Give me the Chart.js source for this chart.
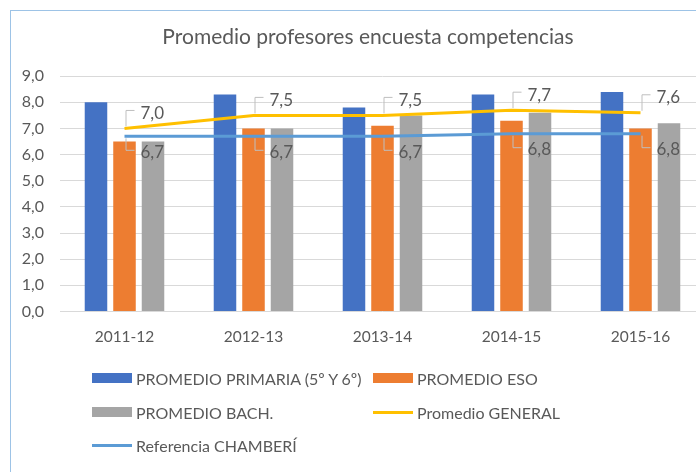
<!DOCTYPE html>
<html>
<head>
<meta charset="utf-8">
<script src="https://cdn.jsdelivr.net/npm/chart.js@4"></script>
<style>
  html, body { margin: 0; padding: 0; background: #fff; overflow: hidden; }
  body { width: 696px; height: 472px; position: relative; }
  #frame {
    position: absolute; left: 10px; top: 10px;
    width: 714px; height: 480px;
    border: 1px solid #9dc3e6;
  }
  #legend {
    position: absolute; left: 0; top: 0; width: 714px; height: 480px;
    pointer-events: none;
    font-family: Lato, "Open Sans", sans-serif; font-size: 16px; color: #595959;
  }
  .item { position: absolute; display: flex; align-items: center; white-space: nowrap; }
  .sw { width: 40px; margin-right: 4px; }
</style>
</head>
<body>
<div id="frame">
  <canvas id="chart" width="714" height="366"></canvas>
  <div id="legend"></div>
</div>
<script>
// categories
const cursos = ["2011-12", "2012-13", "2013-14", "2014-15", "2015-16"];

// bar series
const primaria = [8.0, 8.3, 7.8, 8.3, 8.4];
const eso = [6.5, 7.0, 7.1, 7.3, 7.0];
const bach = [6.5, 7.0, 7.5, 7.6, 7.2];

// line series
const general = [7.0, 7.5, 7.5, 7.7, 7.6];
const chamberi = [6.7, 6.7, 6.7, 6.8, 6.8];

const txtColor = "#595959";
const fontFam = "Lato, 'Open Sans', sans-serif";

const coma = (v) => v.toFixed(1).replace(".", ",");

// labels with small leader brackets next to the line points
const lineLabels = {
  id: "lineLabels",
  afterDatasetsDraw(chart) {
    const ctx = chart.ctx;
    chart.data.datasets.forEach((ds, i) => {
      if (!ds.labelSide) return;
      const meta = chart.getDatasetMeta(i);
      const up = ds.labelSide === "up";
      meta.data.forEach((pt, j) => {
        const x = pt.x, y = pt.y;
        const ty = up ? y - 15 : y + 16;
        ctx.save();
        ctx.strokeStyle = "#bfbfbf";
        ctx.lineWidth = 1;
        ctx.beginPath();
        ctx.moveTo(x + 1.5, y + (up ? -2 : 2));
        ctx.lineTo(x + 1.5, ty + (up ? -3 : -2));
        ctx.lineTo(x + 10, ty + (up ? -3 : -2));
        ctx.stroke();
        ctx.fillStyle = txtColor;
        ctx.font = "17px " + fontFam;
        ctx.textBaseline = "middle";
        ctx.textAlign = "left";
        ctx.fillText(coma(ds.data[j]), x + 16, ty);
        ctx.restore();
      });
    });
  }
};

const chart = new Chart(document.getElementById("chart"), {
  type: "bar",
  data: {
    labels: cursos,
    datasets: [
      { label: "PROMEDIO PRIMARIA (5º Y 6º)", data: primaria, backgroundColor: "#4472c4", order: 1 },
      { label: "PROMEDIO ESO", data: eso, backgroundColor: "#ed7d31", order: 1 },
      { label: "PROMEDIO BACH.", data: bach, backgroundColor: "#a5a5a5", order: 1 },
      { type: "line", label: "Promedio GENERAL", data: general, borderColor: "#ffc000",
        backgroundColor: "#ffc000", borderWidth: 3, pointRadius: 0, tension: 0, order: 0, labelSide: "up" },
      { type: "line", label: "Referencia CHAMBERÍ", data: chamberi, borderColor: "#5b9bd5",
        backgroundColor: "#5b9bd5", borderWidth: 3, pointRadius: 0, tension: 0, order: 0, labelSide: "down" }
    ]
  },
  options: {
    responsive: false,
    animation: false,
    categoryPercentage: 0.663,
    barPercentage: 0.79,
    layout: { padding: { left: 0, right: 0, top: 0, bottom: 15 } },
    plugins: {
      legend: { display: false },
      tooltip: { enabled: false },
      title: {
        display: true,
        text: "Promedio profesores encuesta competencias",
        color: txtColor,
        font: { family: fontFam, size: 21, weight: "normal" },
        padding: { top: 14, bottom: 26 }
      }
    },
    scales: {
      x: {
        grid: { display: false, drawTicks: false },
        border: { display: false },
        ticks: { color: txtColor, font: { family: fontFam, size: 15.5 }, padding: 16 }
      },
      y: {
        min: 0, max: 9,
        grid: { color: "#d9d9d9", drawTicks: false },
        border: { display: false },
        afterFit: (scale) => { scale.width = 49; },
        ticks: {
          stepSize: 1, color: txtColor, padding: 16,
          font: { family: fontFam, size: 16 },
          callback: (v) => coma(v)
        }
      },
      // empty right-hand margin so the title stays centred on the whole chart
      yRight: {
        position: "right",
        min: 0, max: 9,
        grid: { display: false, drawTicks: false },
        border: { display: false },
        ticks: { display: false },
        afterFit: (scale) => { scale.width = 20; }
      }
    }
  },
  plugins: [lineLabels]
});

// legend laid out in two columns like the original
const legendPos = [[81, 367], [362, 367], [81, 401], [362, 401], [81, 434]];
const legendBox = document.getElementById("legend");
chart.data.datasets.forEach((ds, i) => {
  const item = document.createElement("div");
  item.className = "item";
  item.style.left = legendPos[i][0] + "px";
  item.style.top = (legendPos[i][1] - 10) + "px";
  item.style.height = "20px";
  const sw = document.createElement("span");
  sw.className = "sw";
  sw.style.background = ds.borderColor || ds.backgroundColor;
  sw.style.height = ds.type === "line" ? "3px" : "10px";
  const tx = document.createElement("span");
  tx.textContent = ds.label;
  item.appendChild(sw);
  item.appendChild(tx);
  legendBox.appendChild(item);
});
</script>
</body>
</html>
